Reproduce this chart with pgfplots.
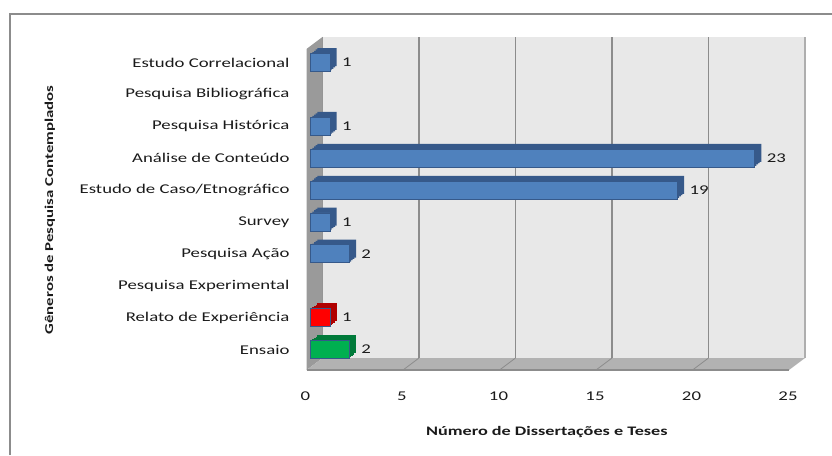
\documentclass[border=0pt]{standalone}
\usepackage{fontspec}
\setmainfont{Carlito}[FakeStretch=1.4]
\usepackage{pgfplots}
\pgfplotsset{compat=1.18}
\definecolor{barblue}{HTML}{4F81BD}
\definecolor{barblueD}{HTML}{36598A}
\definecolor{barred}{HTML}{FF0000}
\definecolor{barredD}{HTML}{B00000}
\definecolor{bargreen}{HTML}{00B050}
\definecolor{bargreenD}{HTML}{007A3A}
\definecolor{wallc}{HTML}{E8E8E8}
\definecolor{floorc}{HTML}{B2B2B2}
\definecolor{sidec}{HTML}{9A9A9A}
\definecolor{gridc}{HTML}{8C8C8C}
\definecolor{txt}{HTML}{1A1A1A}
\pgfplotsset{
  backbar/.style={xbar, bar shift=0pt, bar width=18pt, draw=none, forget plot},
  frontbar/.style={xbar, bar shift=0pt, bar width=18pt, draw=barblueD, line width=0.7pt, xshift=-11.8pt, yshift=-8.9pt, nodes near coords},
}
\begin{document}
\begin{tikzpicture}[x=1pt,y=1pt]
\useasboundingbox (0,0) rectangle (832,455);
\draw[gridc, line width=1.2pt] (10,0) -- (10,441) -- (832,441);
\begin{axis}[at={(322.5pt,97pt)}, anchor=south west, scale only axis,
  width=482.5pt, height=321pt,
  xmin=0, xmax=25, ymin=-0.545, ymax=9.52,
  clip=false,
  axis background/.style={fill=wallc},
  axis line style={draw=none},
  xtick={0,5,...,25}, xmajorgrids, grid style={gridc, line width=1.2pt},
  major tick length=0pt,
  ytick={0,...,9},
  yticklabels={Ensaio, Relato de Experiência, Pesquisa Experimental, Pesquisa Ação, Survey, Estudo de Caso/Etnográfico, Análise de Conteúdo, Pesquisa Histórica, Pesquisa Bibliográfica, Estudo Correlacional},
  /pgf/number format/assume math mode=true,
  tick label style={font=\fontsize{13.4pt}{15pt}\selectfont, text=txt},
  yticklabel style={anchor=east, xshift=-29.5pt, yshift=-8.9pt},
  xticklabel style={anchor=north, xshift=-17pt, yshift=-30pt},
  xlabel={Número de Dissertações e Teses},
  ylabel={Gêneros de Pesquisa Contemplados},
  every axis x label/.style={at={(axis description cs:0.465,-0.2305)}, anchor=center, font=\bfseries\fontsize{13pt}{15pt}\selectfont, text=txt},
  every axis y label/.style={at={(axis description cs:-0.5648,0.461)}, anchor=center, rotate=90, font=\bfseries\fontsize{12pt}{14pt}\selectfont, text=txt},
  every node near coord/.append style={font=\fontsize{13.4pt}{15pt}\selectfont, text=txt, xshift=8.5pt},
]
% left wall and floor
\fill[sidec] (axis cs:0,-0.545) -- (axis cs:0,9.52) -- ([shift={(-16pt,-12pt)}]axis cs:0,9.52) -- ([shift={(-16pt,-12pt)}]axis cs:0,-0.545) -- cycle;
\fill[floorc] (axis cs:0,-0.545) -- (axis cs:25,-0.545) -- ([shift={(-16pt,-12pt)}]axis cs:25,-0.545) -- ([shift={(-16pt,-12pt)}]axis cs:0,-0.545) -- cycle;
\draw[gridc, line width=1.5pt] ([shift={(-16pt,-12pt)}]axis cs:0,-0.545) -- ([shift={(-16pt,-12pt)}]axis cs:25,-0.545);
\draw[gridc, line width=0.8pt] (axis cs:5,-0.545) -- ([shift={(-16pt,-12pt)}]axis cs:5,-0.545);
\draw[gridc, line width=0.8pt] (axis cs:10,-0.545) -- ([shift={(-16pt,-12pt)}]axis cs:10,-0.545);
\draw[gridc, line width=0.8pt] (axis cs:15,-0.545) -- ([shift={(-16pt,-12pt)}]axis cs:15,-0.545);
\draw[gridc, line width=0.8pt] (axis cs:20,-0.545) -- ([shift={(-16pt,-12pt)}]axis cs:20,-0.545);
\draw[gridc!70, line width=1.5pt] (axis cs:25,-0.545) -- (axis cs:25,9.52);
% blue bars: depth layers then front face
\pgfplotstableread{
x y
1 9
1 7
23 6
19 5
1 4
2 3
}\bluedata
\addplot[backbar, fill=barblueD, xshift=-5.1pt, yshift=-3.6pt] table {\bluedata};
\addplot[backbar, fill=barblueD, xshift=-6.8pt, yshift=-4.9pt] table {\bluedata};
\addplot[backbar, fill=barblueD, xshift=-8.4pt, yshift=-6.2pt] table {\bluedata};
\addplot[backbar, fill=barblueD, xshift=-10.1pt, yshift=-7.6pt] table {\bluedata};
\addplot[frontbar, fill=barblue] table {\bluedata};
% red bar
\addplot[backbar, fill=barredD, xshift=-5.1pt, yshift=-3.6pt] coordinates {(1,1)};
\addplot[backbar, fill=barredD, xshift=-6.8pt, yshift=-4.9pt] coordinates {(1,1)};
\addplot[backbar, fill=barredD, xshift=-8.4pt, yshift=-6.2pt] coordinates {(1,1)};
\addplot[backbar, fill=barredD, xshift=-10.1pt, yshift=-7.6pt] coordinates {(1,1)};
\addplot[frontbar, fill=barred] coordinates {(1,1)};
% green bar
\addplot[backbar, fill=bargreenD, xshift=-5.1pt, yshift=-3.6pt] coordinates {(2,0)};
\addplot[backbar, fill=bargreenD, xshift=-6.8pt, yshift=-4.9pt] coordinates {(2,0)};
\addplot[backbar, fill=bargreenD, xshift=-8.4pt, yshift=-6.2pt] coordinates {(2,0)};
\addplot[backbar, fill=bargreenD, xshift=-10.1pt, yshift=-7.6pt] coordinates {(2,0)};
\addplot[frontbar, fill=bargreen] coordinates {(2,0)};
\end{axis}
\end{tikzpicture}
\end{document}
